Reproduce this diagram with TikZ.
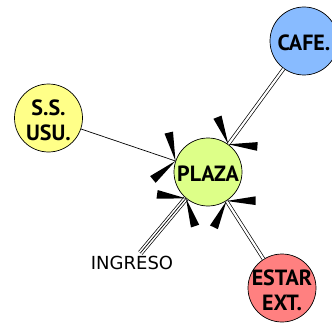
\documentclass[tikz,border=0pt]{standalone}
\usepackage{fontspec}
\setmainfont{DejaVu Sans}
\newfontfamily\bubfont{PT Sans}
\usetikzlibrary{positioning, calc}
\definecolor{plazagreen}{HTML}{DDFF88}
\definecolor{usuyellow}{HTML}{FFFF88}
\definecolor{cafeblue}{HTML}{88BBFF}
\definecolor{estarred}{HTML}{FF8080}
\tikzset{
  bubble/.style={circle, draw, line width=0.7pt, minimum size=68pt, inner sep=0pt,
    font=\bubfont\bfseries\fontsize{22}{25}\selectfont},
  dbl/.style={double, double distance=2.2pt, line width=0.7pt},
  tpl/.style={line width=0.7pt, preaction={draw, double, double distance=4pt, line width=0.7pt}},
  wedges/.pic={
    \fill (0,0) -- (49.5:29.5) -- (66.5:29.5) -- cycle;
    \fill (0,0) -- (-49.5:29.5) -- (-66.5:29.5) -- cycle;
  }
}
\newcommand{\bubtext}[1]{\makebox[0pt]{\raisebox{-10pt}[0pt][0pt]{\begin{tabular}{@{}c@{}}#1\end{tabular}}}}

\begin{document}
\begin{tikzpicture}[x=1pt, y=1pt]
  % bubble diagram: plaza in the middle, four rooms round it
  \useasboundingbox (0,0) rectangle (332,322);
  \node[bubble, fill=plazagreen] (plaza) at (208,150) {\bubtext{PLAZA}};
  \node[bubble, fill=cafeblue]   (cafe)  at (304,281) {\bubtext{CAFE.}};
  \node[bubble, fill=usuyellow]  (ssusu) at (48.5,204) {\bubtext{S.S.\\USU.}};
  \node[bubble, fill=estarred]   (estar) at (282,34) {\bubtext{ESTAR\\EXT.}};
  \node[font=\fontsize{18}{22}\selectfont, inner sep=3pt] (ingreso) at (132,59) {INGRESO};

  \draw[dbl] (cafe) -- (plaza);
  \draw[line width=0.7pt] (ssusu) -- (plaza);
  \draw[tpl] (ingreso) -- (plaza);
  \draw[dbl] (estar) -- (plaza);

  \path (plaza) -- (cafe)    pic[pos=0, sloped, allow upside down] {wedges};
  \path (plaza) -- (ssusu)   pic[pos=0, sloped, allow upside down] {wedges};
  \path (plaza) -- (ingreso) pic[pos=0, sloped, allow upside down] {wedges};
  \path (plaza) -- (estar)   pic[pos=0, sloped, allow upside down] {wedges};
\end{tikzpicture}
\end{document}
